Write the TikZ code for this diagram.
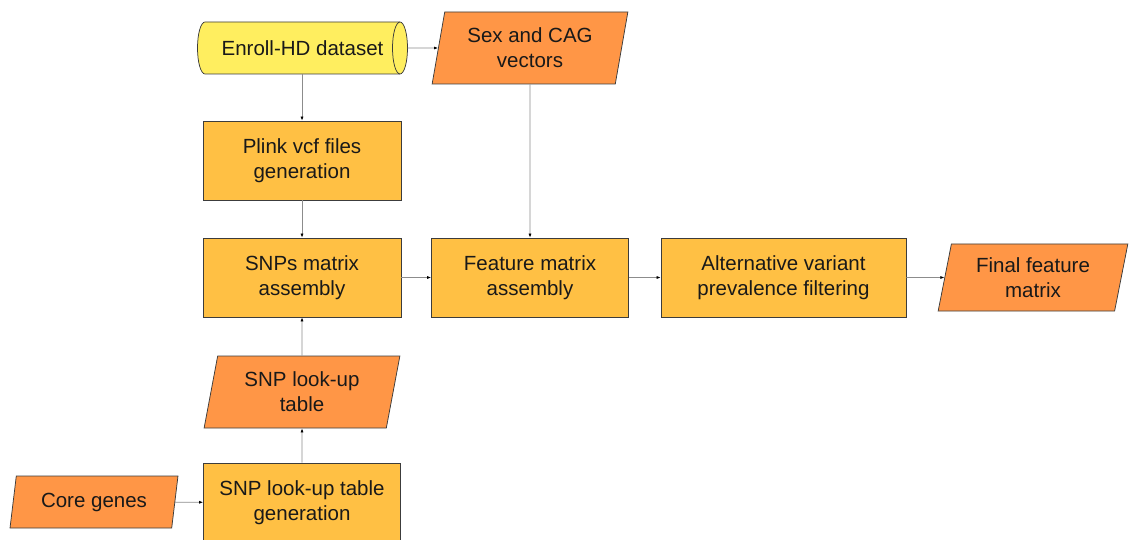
\documentclass[tikz,border=0pt]{standalone}
\usepackage{fontspec}
\setmainfont{Liberation Sans}
\usetikzlibrary{shapes.geometric,arrows.meta}
\definecolor{cylY}{RGB}{255,238,95}
\definecolor{boxG}{RGB}{255,192,68}
\definecolor{parO}{RGB}{255,150,70}
\definecolor{edgeC}{RGB}{60,60,60}
\definecolor{linkC}{RGB}{140,140,140}
\begin{document}
\begin{tikzpicture}[x=1pt,y=-1pt,
 every node/.style={font=\fontsize{20.5}{25}\selectfont, align=center, text=black!90, inner sep=0pt},
 procbox/.style={rectangle, draw=edgeC, line width=0.75pt, fill=boxG, minimum height=79pt},
 iobox/.style={trapezium, trapezium left angle=77, trapezium right angle=103, trapezium stretches=true, draw=edgeC, fill=parO, line width=0.75pt},
 cylline/.style={draw=edgeC, line width=0.75pt},
 link/.style={draw=linkC, line width=0.7pt, -{Latex[length=4pt,width=3pt,color=black]}}]
\useasboundingbox (0,0) rectangle (1130,540);
% cylinder (database) drawn directly
\draw[cylline, fill=cylY] (205,22) -- (400,22)
  arc[start angle=-90, end angle=90, x radius=7.5, y radius=26] -- (205,74)
  arc[start angle=90, end angle=270, x radius=7.5, y radius=26] -- cycle;
\draw[cylline] (400,22) arc[start angle=-90, end angle=-270, x radius=7.5, y radius=26];
\node[minimum width=210pt, minimum height=52pt] (enroll) at (302.5,48) {Enroll-HD dataset};
\node[iobox, minimum width=196pt, minimum height=72pt] (sex) at (530,48) {Sex and CAG\\vectors};
\node[procbox, minimum width=198pt] (plink) at (302,160.5) {Plink vcf files\\generation};
\node[procbox, minimum width=198pt] (snps) at (302,277.5) {SNPs matrix\\assembly};
\node[procbox, minimum width=197pt] (feat) at (530,277.5) {Feature matrix\\assembly};
\node[procbox, minimum width=245pt] (alt) at (783.5,277.5) {Alternative variant\\prevalence filtering};
\node[iobox, minimum width=190pt, minimum height=67pt] (final) at (1033,277.5) {Final feature\\matrix};
\node[iobox, minimum width=196pt, minimum height=72pt] (lut) at (302,392) {SNP look-up\\table};
\node[iobox, minimum width=168pt, minimum height=52pt] (core) at (94,502) {Core genes};
\node[procbox, minimum width=197pt] (gen) at (302,502.5) {SNP look-up table\\generation};
\draw[link] (enroll.south -| plink) -- (plink.north);
\draw[link] (enroll) -- (sex);
\draw[link] (sex) -- (feat);
\draw[link] (plink) -- (snps);
\draw[link] (snps) -- (feat);
\draw[link] (feat) -- (alt);
\draw[link] (alt) -- (final);
\draw[link] (gen) -- (lut);
\draw[link] (lut) -- (snps);
\draw[link] (core) -- (gen);
\end{tikzpicture}
\end{document}
